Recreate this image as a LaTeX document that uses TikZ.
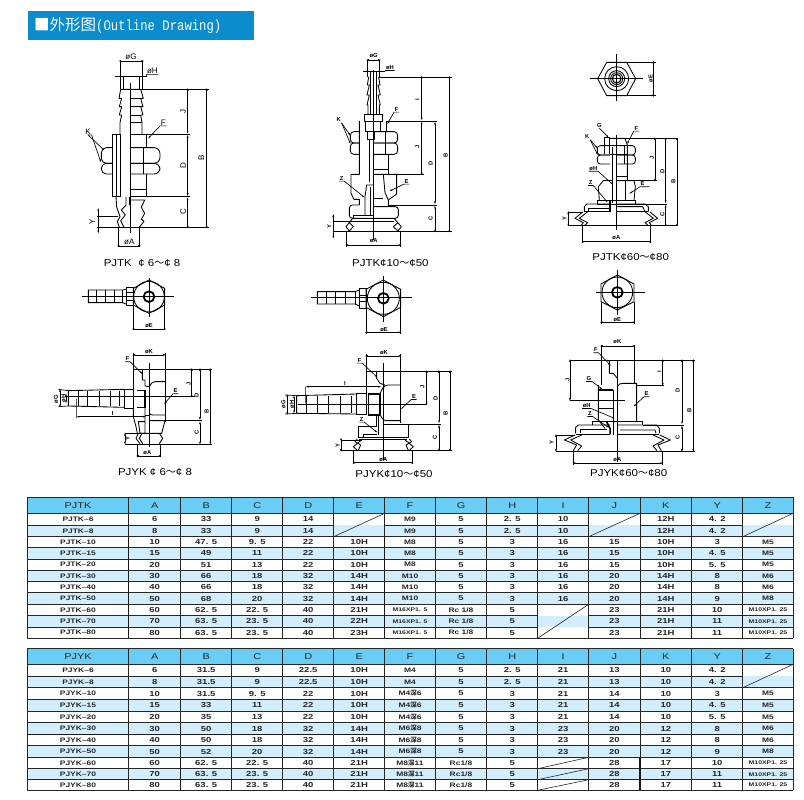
\documentclass[tikz,border=0pt]{standalone}
\usepackage{fontspec}
\usetikzlibrary{arrows.meta}
\setmainfont{Liberation Sans}
\newfontfamily\cjk{Noto Sans CJK SC}
\newfontfamily\titlefont[FakeStretch=.84]{Liberation Mono}
\newfontfamily\tabfont[FakeStretch=1.3]{Liberation Sans}
\newfontfamily\capfont[FakeStretch=1.15]{Liberation Sans}
\definecolor{titleblue}{RGB}{10,140,205}
\definecolor{headblue}{RGB}{105,205,245}
\definecolor{bandblue}{RGB}{210,238,252}
\newcommand{\shen}{{\cjk 深}}
\newcommand{\sm}{\fontsize{5.3}{6}\selectfont}
\newcommand{\fc}{\fontsize{6.5}{7}\selectfont}
\tikzset{
	sheet/.style 2 args={shift={(#1,#2)},x=.33333pt,y=-.33333pt},
	part/.style={line width=.85pt,line join=round},
	thin part/.style={line width=.5pt},
	heavy/.style={line width=1.5pt},
	extline/.style={line width=.65pt},
	dimline/.style={line width=.65pt,{Latex[length=3.5pt,width=1.8pt]}-{Latex[length=3.5pt,width=1.8pt]}},
	leader/.style={line width=.65pt,-{Latex[length=4pt,width=1.6pt]}},
	dimlbl/.style={font=\bfseries\fontsize{5.8}{6}\selectfont,inner sep=.6pt},
	dimrot/.style={dimlbl,rotate=90},
	biglbl/.style={font=\fontsize{8}{8}\selectfont,inner sep=.6pt},
	bigrot/.style={biglbl,rotate=90},
	caption/.style={font=\capfont\fontsize{10}{10}\selectfont,inner sep=0pt},
	tabcell/.style={font=\tabfont\bfseries\fontsize{7.3}{8}\selectfont,inner sep=0pt,text=black!85},
	headcell/.style={font=\tabfont\fontsize{8.4}{9}\selectfont,inner sep=0pt,text=black!85},
	grid/.style={line width=.6pt,black!85},
	gridheavy/.style={line width=1.3pt,black!90},
}
\begin{document}
\begin{tikzpicture}[x=1pt,y=-1pt]
	\useasboundingbox (0,0) rectangle (804,800);
	% title bar
	\fill[titleblue] (28,11) rectangle (254,40);
	\node[anchor=west,inner sep=0pt,text=white] (title) at (34,25.5) {{\cjk\fontsize{15.5}{16}\selectfont ■外形图}{\titlefont\fontsize{14.6}{15}\selectfont (Outline Drawing)}};
	% PJTK 6-8
	\begin{scope}[sheet={0}{0}]
		\draw[thin part] (392,248) -- (392,698);
		\draw[extline] (345,229) -- (440,229);
		\draw[extline] (360,183) -- (360,268);
		\draw[extline] (428,183) -- (428,268);
		\draw[part] (370,229) -- (370,268) (418,229) -- (418,268);
		\draw[part] (420,268) -- (362,268) -- (357,295) -- (365,295) -- (358,320) -- (365,320) -- (358,345) -- (365,345) -- (360,368) -- (360,403);
		\draw[part] (422,268) -- (430,295) -- (422,295) -- (429,320) -- (422,320) -- (429,345) -- (422,345) -- (426,368) -- (426,403);
		\draw[part] (392,295) -- (422,295) (392,320) -- (422,320) (392,345) -- (422,345) (392,368) -- (426,368);
		\draw[part] (338,590) -- (338,403) -- (360,403) (392,403) -- (440,403) -- (440,443) (440,522) -- (440,590) -- (392,590) (338,590) -- (360,590);
		\draw[part] (348,403) -- (348,590) (360,403) -- (360,590) (392,568) -- (440,568);
		\draw[part,rounded corners=5pt] (338,443) -- (304,443) -- (304,490) -- (338,490);
		\draw[part,rounded corners=5pt] (338,490) -- (304,490) -- (304,522) -- (338,522);
		\draw[part,rounded corners=6pt] (392,443) -- (480,443) -- (480,490) -- (392,490);
		\draw[part,rounded corners=6pt] (392,490) -- (480,490) -- (480,522) -- (392,522);
		\draw[part] (430,443) -- (430,522);
		\draw[part] (392,600) -- (434,600) -- (424,622) -- (434,640) -- (424,658) -- (432,664) -- (418,682);
		\draw[part] (348,590) -- (350,620) -- (360,650) -- (352,664) -- (358,682);
		\draw[part] (378,590) -- (378,616) -- (364,630) -- (376,645) -- (362,662) -- (372,682);
		\draw[part] (388,590) -- (388,616);
		\draw[extline] (420,268) -- (626,268) (440,403) -- (570,403) (440,590) -- (570,590) (290,682) -- (626,682) (290,648) -- (355,648);
		\draw[extline] (355,682) -- (355,742) (418,682) -- (418,742);
		\draw[dimline] (353,183) -- (435,183);
		\draw[dimline] (563,262) -- (563,403);
		\draw[dimline] (563,403) -- (563,590);
		\draw[dimline] (563,590) -- (563,688);
		\draw[dimline] (620,262) -- (620,688);
		\draw[dimline] (295,622) -- (295,702);
		\draw[dimline] (348,738) -- (425,738);
		\node[biglbl] (tk1G) at (393,170) {øG};
		\node[biglbl] (tk1H) at (457,213) {øH};
		\node[biglbl] (tk1K) at (264,394) {K};
		\node[biglbl] (tk1F) at (490,367) {F};
		\node[bigrot] (tk1J) at (549,335) {J};
		\node[bigrot] (tk1D) at (549,497) {D};
		\node[bigrot] (tk1C) at (549,636) {C};
		\node[bigrot] (tk1B) at (604,473) {B};
		\node[bigrot] (tk1Y) at (276,666) {Y};
		\node[biglbl] (tk1A) at (388,724) {øA};
		\draw[extline] (tk1H.south east) -- (tk1H.south west) -- (440,229);
		\draw[leader] (tk1K.south east) -- (tk1K.south) -- (316,454);
		\draw[leader] (tk1K.south east) -- (304,490);
		\draw[leader] (tk1F.south east) -- (tk1F.south west) -- (442,418);
		\node[caption] (tk1cap) at (426,790) {PJTK\ \ ¢ 6{\cjk ～}¢ 8};
	\end{scope}
	% PJTK 10-50
	\begin{scope}[sheet={270}{30}]
		\draw[thin part] (310,120) -- (310,630);
		\draw[extline] (293,90) -- (293,140) (328,90) -- (328,140) (280,125) -- (345,125);
		\draw[part] (302,125) -- (302,252) (318,125) -- (318,252);
		\draw[part] (296,141) -- (292,165) -- (298,165) -- (291,195) -- (298,195) -- (291,225) -- (294,225) -- (294,252);
		\draw[part] (326,141) -- (330,165) -- (324,165) -- (331,195) -- (324,195) -- (331,225) -- (328,225) -- (328,252);
		\draw[part] (284,252) -- (336,252) -- (336,273) -- (284,273) -- cycle;
		\draw[part] (287,273) -- (287,303) -- (332,303) -- (332,273);
		\draw[part] (292,303) -- (292,328) -- (312,328) -- (312,303);
		\draw[part] (268,273) -- (268,433) -- (243,433) -- (243,490) -- (252,508) -- (268,508) -- (268,525);
		\draw[part] (297,328) -- (297,455) (311,328) -- (311,455);
		\draw[part] (350,273) -- (350,305) (355,373) -- (355,433) (311,418) -- (355,418);
		\draw[part,rounded corners=3.5pt] (268,305) -- (241,305) -- (241,339) -- (268,339);
		\draw[part,rounded corners=3.5pt] (268,339) -- (241,339) -- (241,373) -- (268,373);
		\draw[part,rounded corners=3.5pt] (311,305) -- (383,305) -- (383,339) -- (311,339);
		\draw[part,rounded corners=3.5pt] (311,339) -- (383,339) -- (383,373) -- (311,373);
		\draw[part] (345,305) -- (345,373);
		\draw[part] (311,433) -- (380,433) -- (380,492) -- (355,510) -- (355,525);
		\draw[part] (340,433) -- (345,488) -- (355,510);
		\draw[part] (311,505) -- (340,505);
		\draw[part,rounded corners=3pt] (268,525) -- (238,525) -- (238,565) -- (385,565) -- (385,530) -- (311,530);
		\draw[part] (250,565) -- (250,556) -- (311,556);
		\draw[part] (285,556) -- (285,500) -- (290,465) -- (311,465);
		\draw[heavy] (302,470) -- (302,556);
		\draw[part] (248,573) -- (372,573);
		\draw[part] (248,565) -- (228,590) -- (238,603) -- (250,590) -- (238,578);
		\draw[part] (372,565) -- (394,590) -- (384,603) -- (370,590) -- (384,578);
		\draw[extline] (190,605) -- (546,605) (190,573) -- (248,573) (328,141) -- (546,141) (350,273) -- (500,273) (355,433) -- (462,433) (355,525) -- (500,525);
		\draw[extline] (228,605) -- (228,650) (392,605) -- (392,650);
		\draw[dimline] (286,90) -- (335,90);
		\draw[dimline] (455,135) -- (455,273);
		\draw[dimline] (455,273) -- (455,438);
		\draw[dimline] (495,273) -- (495,525);
		\draw[dimline] (495,525) -- (495,610);
		\draw[dimline] (538,135) -- (538,610);
		\draw[dimline] (190,550) -- (190,628);
		\draw[dimline] (224,645) -- (397,645);
		\node[dimlbl] (tk2G) at (311,78) {øG};
		\node[dimlbl] (tk2H) at (360,113) {øH};
		\node[dimlbl] (tk2K) at (206,270) {K};
		\node[dimlbl] (tk2F) at (380,238) {F};
		\node[dimlbl] (tk2Z) at (215,445) {Z};
		\node[dimlbl] (tk2E) at (410,454) {E};
		\node[dimrot] (tk2I) at (442,208) {I};
		\node[dimrot] (tk2J) at (442,352) {J};
		\node[dimrot] (tk2D) at (482,400) {D};
		\node[dimrot] (tk2C) at (482,565) {C};
		\node[dimrot] (tk2B) at (527,375) {B};
		\node[dimrot] (tk2Y) at (178,590) {Y};
		\node[dimlbl] (tk2A) at (311,632) {øA};
		\draw[extline] (tk2H.south east) -- (tk2H.south west) -- (345,125);
		\draw[leader] (tk2K.south east) -- (243,320);
		\draw[leader] (tk2K.south east) -- (243,345);
		\draw[leader] (tk2F.south east) -- (tk2F.south west) -- (350,285);
		\draw[leader] (tk2Z.south west) -- (tk2Z.south east) -- (287,505);
		\draw[leader] (tk2E.south east) -- (tk2E.south west) -- (355,485);
		\node[caption] (tk2cap) at (361,700) {PJTK¢10{\cjk ～}¢50};
	\end{scope}
	% PJTK 60-80
	\begin{scope}[sheet={530}{30}]
		\draw[thin part] (180,146) -- (340,146) (260,72) -- (260,212);
		\draw[part] (203,146) -- (230,97) -- (290,97) -- (317,146) -- (290,197) -- (230,197) -- cycle;
		\draw[part] (260,146) circle[radius=36] (260,146) circle[radius=24] (260,146) circle[radius=18];
		\draw[line width=1.1pt] (260,146) circle[radius=13];
		\draw[extline] (290,97) -- (377,97) (290,197) -- (377,197);
		\draw[dimline] (370,90) -- (370,204);
		\node[dimrot] (tk3E1) at (362,146) {øE};
		\draw[thin part] (260,316) -- (260,600);
		\draw[part] (222,372) -- (222,322) -- (238,322) -- (238,372);
		\draw[part] (237,325) -- (285,325) -- (292,345) -- (292,452);
		\draw[part] (240,345) -- (292,345) (240,372) -- (292,372);
		\draw[part,rounded corners=3pt] (240,347) -- (202,347) -- (202,375) -- (240,375);
		\draw[part,rounded corners=3pt] (240,375) -- (202,375) -- (202,402) -- (240,402);
		\draw[part,rounded corners=3pt] (262,347) -- (316,347) -- (316,375) -- (262,375);
		\draw[part,rounded corners=3pt] (262,375) -- (316,375) -- (316,402) -- (262,402);
		\draw[part] (283,347) -- (283,402);
		\draw[part] (247,350) -- (247,520) (258,350) -- (258,520) (262,440) -- (292,440);
		\draw[part] (262,452) -- (312,452) -- (316,470) -- (312,510);
		\draw[part] (220,452) -- (245,452);
		\draw[part] (220,452) -- (205,470) -- (208,510);
		\draw[part] (285,452) -- (285,510);
		\draw[part] (202,510) -- (317,510) -- (317,522) -- (202,522) -- cycle;
		\draw[part] (163,545) -- (163,530) -- (170,522) -- (240,522);
		\draw[part] (176,545) -- (176,536) -- (240,536);
		\draw[part] (262,522) -- (345,522) -- (355,530) -- (355,545);
		\draw[part] (262,530) -- (338,530) -- (345,545);
		\draw[line width=1pt] (163,546) -- (240,546) (262,546) -- (355,546);
		\draw[heavy] (240,512) -- (240,546);
		\draw[part] (158,546) -- (135,565) -- (160,578) -- (153,587);
		\draw[part] (172,546) -- (148,565) -- (173,578) -- (163,587);
		\draw[part] (360,546) -- (383,565) -- (358,578) -- (365,587);
		\draw[part] (346,546) -- (370,565) -- (345,578) -- (355,587);
		\draw[extline] (115,587) -- (445,587) (115,547) -- (160,547) (285,325) -- (445,325) (262,452) -- (380,452) (317,522) -- (412,522);
		\draw[extline] (157,587) -- (157,640) (362,587) -- (362,640);
		\draw[dimline] (375,320) -- (375,457);
		\draw[dimline] (407,320) -- (407,522);
		\draw[dimline] (407,522) -- (407,592);
		\draw[dimline] (441,320) -- (441,592);
		\draw[dimline] (115,541) -- (115,592);
		\draw[dimline] (152,635) -- (367,635);
		\node[dimlbl] (tk3G) at (208,286) {G};
		\node[dimlbl] (tk3F) at (319,295) {F};
		\node[dimlbl] (tk3K) at (172,321) {K};
		\node[dimlbl] (tk3H) at (190,415) {øH};
		\node[dimlbl] (tk3Z) at (182,458) {Z};
		\node[dimlbl] (tk3E) at (338,462) {E};
		\node[dimrot] (tk3J) at (366,385) {J};
		\node[dimrot] (tk3D) at (397,423) {D};
		\node[dimrot] (tk3C) at (397,553) {C};
		\node[dimrot] (tk3B) at (430,455) {B};
		\node[dimrot] (tk3Y) at (104,567) {Y};
		\node[dimlbl] (tk3A) at (259,624) {øA};
		\draw[leader] (tk3G.south) -- (238,325);
		\draw[leader] (tk3F.south east) -- (tk3F.south west) -- (290,345);
		\draw[leader] (tk3K.south east) -- (205,358);
		\draw[leader] (tk3K.south east) -- (205,378);
		\draw[leader] (tk3H.south west) -- (tk3H.south east) -- (250,465);
		\draw[leader] (tk3Z.south west) -- (tk3Z.south east) -- (235,520);
		\draw[leader] (358,470) -- (tk3E.south west) -- (295,493);
		\node[caption] (tk3cap) at (302,680) {PJTK¢60{\cjk ～}¢80};
	\end{scope}
	% PJYK 6-8
	\begin{scope}[sheet={30}{270}]
		\draw[thin part] (155,80) -- (433,80) (357,25) -- (357,140);
		\draw[part] (357,30) -- (404,55) -- (404,105) -- (357,130) -- (310,105) -- (310,55) -- cycle;
		\draw[part] (357,80) circle[radius=46];
		\draw[line width=1.8pt] (357,80) circle[radius=16];
		\draw[part] (290,57) -- (278,60) -- (175,60) -- (175,98) -- (278,98) -- (290,103);
		\draw[part] (200,60) -- (200,98) (227,60) -- (227,98) (252,60) -- (252,98) (278,60) -- (278,98);
		\draw[part] (290,53) -- (310,53) -- (310,105) -- (290,105) -- cycle;
		\draw[part] (290,67) -- (310,67) (290,92) -- (310,92);
		\draw[extline] (310,105) -- (310,181) (404,105) -- (404,181);
		\draw[dimline] (303,177) -- (412,177);
		\node[dimlbl] (yk1E1) at (357,167) {øE};
		\draw[thin part] (357,278) -- (357,530);
		\draw[thin part] (105,380) -- (495,380);
		\draw[extline] (310,250) -- (310,358) (405,250) -- (405,297);
		\draw[extline] (310,297) -- (545,297);
		\draw[part] (405,297) -- (405,455);
		\draw[part] (337,297) -- (337,330) -- (345,330) -- (345,348) -- (360,350);
		\draw[part] (358,350) to[out=60,in=170] (375,335) -- (405,335);
		\draw[part] (358,350) -- (358,452);
		\draw[part] (358,430) to[out=-60,in=180] (370,435) -- (405,435);
		\draw[part] (115,362) -- (283,358) (115,408) -- (283,412) (115,362) -- (115,408);
		\draw[part] (145,362) -- (145,408) (172,362) -- (172,408) (207,362) -- (207,408) (240,362) -- (240,408) (267,362) -- (267,408);
		\draw[part] (283,358) -- (310,358) -- (310,415) -- (283,415) -- cycle;
		\draw[line width=1.1pt] (320,362) -- (345,362) -- (345,412) -- (320,412);
		\draw[part] (310,415) -- (310,440) -- (318,470) -- (322,490);
		\draw[part] (345,412) -- (345,490) -- (330,490) -- (325,455) -- (345,455);
		\draw[part] (345,435) -- (358,435);
		\draw[part] (358,452) -- (405,452) -- (395,490) -- (330,490);
		\draw[part] (325,490) -- (318,505) -- (330,521);
		\draw[part] (336,490) -- (328,505) -- (338,521);
		\draw[part] (388,490) -- (398,505) -- (388,521);
		\draw[extline] (285,522) -- (545,522) (400,452) -- (515,452) (285,490) -- (330,490);
		\draw[extline] (322,522) -- (322,562) (392,522) -- (392,562);
		\draw[extline] (85,358) -- (115,362) (85,410) -- (115,408) (140,385) -- (140,444);
		\draw[dimline] (90,354) -- (90,414);
		\draw[dimline] (108,368) -- (108,402);
		\draw[dimline] (138,440) -- (350,440);
		\draw[dimline] (305,255) -- (410,255);
		\draw[dimline] (485,292) -- (485,385);
		\draw[dimline] (510,292) -- (510,452);
		\draw[dimline] (510,452) -- (510,526);
		\draw[dimline] (541,292) -- (541,526);
		\draw[dimline] (285,486) -- (285,526);
		\draw[dimline] (316,558) -- (397,558);
		\node[dimlbl] (yk1K) at (357,244) {øK};
		\node[dimlbl] (yk1F) at (293,267) {F};
		\node[dimlbl] (yk1E) at (437,363) {E};
		\node[dimrot] (yk1G) at (78,388) {øG};
		\node[dimrot] (yk1H) at (100,385) {øH};
		\node[dimlbl] (yk1I) at (248,430) {I};
		\node[dimrot] (yk1J) at (476,343) {J};
		\node[dimrot] (yk1D) at (500,375) {D};
		\node[dimrot] (yk1C) at (500,488) {C};
		\node[dimrot] (yk1B) at (530,424) {B};
		\node[dimrot] (yk1Y) at (293,507) {Y};
		\node[dimlbl] (yk1A) at (352,548) {øA};
		\draw[leader] (yk1F.south west) -- (yk1F.south east) -- (340,315);
		\draw[leader] (yk1E.south east) -- (yk1E.south west) -- (400,405);
		\node[caption] (yk1cap) at (375,605) {PJYK ¢ 6{\cjk ～}¢ 8};
	\end{scope}
	% PJYK 10-50
	\begin{scope}[sheet={270}{270}]
		\draw[thin part] (122,83) -- (425,83) (340,18) -- (340,155);
		\draw[part] (340,30) -- (392,58) -- (392,112) -- (340,140) -- (288,112) -- (288,58) -- cycle;
		\draw[part] (340,85) circle[radius=48];
		\draw[line width=1.8pt] (340,85) circle[radius=16];
		\draw[part] (268,60) -- (255,65) -- (142,65) -- (142,102) -- (255,102) -- (268,108);
		\draw[part] (170,65) -- (170,102) (197,65) -- (197,102) (227,65) -- (227,102) (255,65) -- (255,102);
		\draw[part] (268,55) -- (290,55) -- (290,115) -- (268,115) -- cycle;
		\draw[part] (268,75) -- (290,75) (268,95) -- (290,95);
		\draw[extline] (288,112) -- (288,191) (392,112) -- (392,191);
		\draw[dimline] (282,187) -- (397,187);
		\node[dimlbl] (yk2E1) at (342,178) {øE};
		\draw[thin part] (340,280) -- (340,570);
		\draw[thin part] (85,403) -- (472,403);
		\draw[extline] (288,253) -- (288,370) (390,253) -- (390,303) (288,303) -- (545,303);
		\draw[part] (390,303) -- (390,458);
		\draw[part] (320,303) -- (320,325) -- (330,340) -- (345,345);
		\draw[part] (330,372) to[out=70,in=180] (355,345) -- (390,345);
		\draw[part] (330,372) -- (330,432);
		\draw[part] (330,432) to[out=-70,in=180] (350,452) -- (390,452);
		\draw[part] (80,377) -- (260,372) (80,430) -- (260,432) (80,377) -- (80,430);
		\draw[part] (108,377) -- (108,430) (143,377) -- (143,430) (175,377) -- (175,430) (210,377) -- (210,430) (245,377) -- (245,430);
		\draw[part] (260,370) -- (290,370) -- (290,432) -- (260,432) -- cycle;
		\draw[line width=1.1pt] (295,372) -- (328,372) -- (328,435) -- (295,435) -- cycle;
		\draw[part] (320,435) -- (320,470) -- (265,470) -- (265,502) -- (415,502) -- (415,462) -- (340,462);
		\draw[part] (280,502) -- (280,492) -- (320,492);
		\draw[part] (340,435) -- (340,502);
		\draw[line width=1pt] (325,435) -- (325,495);
		\draw[part] (278,507) -- (250,530) -- (262,541);
		\draw[part] (262,507) -- (255,515) -- (272,525) -- (265,541);
		\draw[part] (402,507) -- (430,530) -- (418,541);
		\draw[part] (418,507) -- (425,515) -- (408,525) -- (415,541);
		\draw[part] (268,507) -- (412,507);
		\draw[extline] (213,542) -- (545,542) (213,510) -- (275,510) (415,462) -- (512,462);
		\draw[extline] (250,542) -- (250,582) (428,542) -- (428,582);
		\draw[extline] (45,375) -- (80,377) (45,432) -- (80,430) (107,350) -- (107,400);
		\draw[dimline] (283,258) -- (397,258);
		\draw[dimline] (105,350) -- (335,350);
		\draw[dimline] (52,370) -- (52,437);
		\draw[dimline] (72,374) -- (72,432);
		\draw[dimline] (470,298) -- (470,408);
		\draw[dimline] (507,298) -- (507,462);
		\draw[dimline] (507,462) -- (507,547);
		\draw[dimline] (540,298) -- (540,547);
		\draw[dimline] (213,500) -- (213,548);
		\draw[dimline] (245,578) -- (433,578);
		\node[dimlbl] (yk2K) at (342,247) {øK};
		\node[dimlbl] (yk2F) at (269,271) {F};
		\node[dimlbl] (yk2E) at (432,380) {E};
		\node[dimlbl] (yk2I) at (225,340) {I};
		\node[dimlbl] (yk2Z) at (275,448) {Z};
		\node[dimrot] (yk2G) at (40,403) {øG};
		\node[dimrot] (yk2H) at (66,403) {øH};
		\node[dimrot] (yk2J) at (457,352) {J};
		\node[dimrot] (yk2D) at (497,385) {D};
		\node[dimrot] (yk2C) at (495,502) {C};
		\node[dimrot] (yk2B) at (527,430) {B};
		\node[dimrot] (yk2Y) at (203,527) {Y};
		\node[dimlbl] (yk2A) at (340,568) {øA};
		\draw[leader] (yk2F.south west) -- (yk2F.south east) -- (325,325);
		\draw[leader] (yk2E.south east) -- (yk2E.south west) -- (390,420);
		\draw[leader] (yk2Z.south west) -- (yk2Z.south east) -- (325,490);
		\node[caption] (yk2cap) at (372,612) {PJYK¢10{\cjk ～}¢50};
	\end{scope}
	% PJYK 60-80
	\begin{scope}[sheet={530}{270}]
		\draw[thin part] (198,67) -- (345,67) (262,0) -- (262,135);
		\draw[part] (262,15) -- (312,42) -- (312,95) -- (262,120) -- (213,95) -- (213,42) -- cycle;
		\draw[part] (262,67) circle[radius=46];
		\draw[line width=1.8pt] (262,67) circle[radius=16];
		\draw[extline] (213,95) -- (213,161) (312,95) -- (312,161);
		\draw[dimline] (207,157) -- (318,157);
		\node[dimlbl] (yk3E1) at (262,150) {øE};
		\draw[thin part] (262,272) -- (262,575);
		\draw[extline] (215,225) -- (215,345) (312,225) -- (312,270) (120,270) -- (495,270) (120,390) -- (285,390);
		\draw[part] (312,270) -- (312,338);
		\draw[part] (238,270) -- (238,310) -- (250,310) -- (262,325);
		\draw[part] (262,350) to[out=80,in=180] (280,340) -- (320,340) -- (320,455);
		\draw[extline] (320,345) -- (403,345);
		\draw[part] (205,345) -- (205,450) -- (225,475);
		\draw[line width=1.3pt] (205,360) -- (250,360) (205,415) -- (250,415);
		\draw[part] (250,360) -- (250,495);
		\draw[part] (188,465) -- (188,455) -- (338,455) -- (338,465);
		\draw[part] (137,490) -- (137,472) -- (145,465) -- (240,465);
		\draw[part] (150,490) -- (150,478) -- (230,478);
		\draw[part] (262,465) -- (380,465) -- (388,475) -- (388,490);
		\draw[part] (270,480) -- (375,480) -- (378,490);
		\draw[heavy] (230,455) -- (240,475) -- (240,493);
		\draw[line width=1pt] (137,493) -- (240,493) (262,493) -- (388,493);
		\draw[part] (135,495) -- (103,510) -- (140,525) -- (130,542);
		\draw[part] (155,495) -- (122,510) -- (155,528) -- (143,542);
		\draw[part] (389,495) -- (421,510) -- (384,525) -- (394,542);
		\draw[part] (369,495) -- (402,510) -- (369,528) -- (381,542);
		\draw[extline] (78,543) -- (495,543) (78,495) -- (135,495) (338,465) -- (462,465);
		\draw[extline] (130,543) -- (130,584) (397,543) -- (397,584);
		\draw[dimline] (208,228) -- (318,228);
		\draw[dimline] (120,265) -- (120,395);
		\draw[dimline] (398,265) -- (398,350);
		\draw[dimline] (456,265) -- (456,465);
		\draw[dimline] (456,465) -- (456,548);
		\draw[dimline] (490,265) -- (490,548);
		\draw[dimline] (78,490) -- (78,548);
		\draw[dimline] (125,579) -- (402,579);
		\node[dimlbl] (yk3K) at (262,215) {øK};
		\node[dimlbl] (yk3F) at (198,240) {F};
		\node[dimlbl] (yk3G) at (177,326) {G};
		\node[dimlbl] (yk3H) at (170,407) {øH};
		\node[dimlbl] (yk3Z) at (180,431) {Z};
		\node[dimlbl] (yk3E) at (350,372) {E};
		\node[dimrot] (yk3I) at (388,305) {I};
		\node[dimrot] (yk3J) at (113,330) {J};
		\node[dimrot] (yk3D) at (443,362) {D};
		\node[dimrot] (yk3C) at (443,503) {C};
		\node[dimrot] (yk3B) at (478,422) {B};
		\node[dimrot] (yk3Y) at (65,518) {Y};
		\node[dimlbl] (yk3A) at (262,570) {øA};
		\draw[leader] (yk3F.south west) -- (yk3F.south east) -- (245,290);
		\draw[leader] (yk3G.south west) -- (yk3G.south east) -- (220,360);
		\draw[leader] (yk3H.south west) -- (yk3H.south east) -- (258,447);
		\draw[leader] (yk3Z.south west) -- (yk3Z.south east) -- (240,475);
		\draw[leader] (yk3E.south east) -- (yk3E.south west) -- (308,412);
		\node[caption] (yk3cap) at (296,610) {PJYK¢60{\cjk ～}¢80};
	\end{scope}
	% table PJTK
	\fill[headblue] (27.3,497.3) rectangle (793.3,513.3);
	\foreach \txt [count=\colno] in {PJTK,A,B,C,D,E,F,G,H,I,J,K,Y,Z}{
		\pgfmathsetmacro\cellx{{78,154.7,206.2,257.2,308.2,359.2,410,461,512.2,563.2,614.3,665.8,717.2,768}[\colno-1]}
		\node[headcell] (pjtk-head-\colno) at (\cellx,505.5) {\txt};
	}
	\foreach \ya/\yb/\vals [count=\rowno] in {
		513.3/525/{\fc PJTK–6,6,33,9,14,,\fc M9,5,2. 5,10,,12H,4. 2,},
		525/536.7/{\fc PJTK–8,8,33,9,14,,\fc M9,5,2. 5,10,,12H,4. 2,},
		536.7/547.7/{\fc PJTK–10,10,47. 5,9. 5,22,10H,\fc M8,5,3,16,15,10H,3,\fc M5},
		547.7/559/{\fc PJTK–15,15,49,11,22,10H,\fc M8,5,3,16,15,10H,4. 5,\fc M5},
		559/570.3/{\fc PJTK–20,20,51,13,22,10H,\fc M8,5,3,16,15,10H,5. 5,\fc M5},
		570.3/581.7/{\fc PJTK–30,30,66,18,32,14H,\fc M10,5,3,16,20,14H,8,\fc M6},
		581.7/592.7/{\fc PJTK–40,40,66,18,32,14H,\fc M10,5,3,16,20,14H,8,\fc M6},
		592.7/604.3/{\fc PJTK–50,50,68,20,32,14H,\fc M10,5,3,16,20,14H,9,\fc M8},
		604.3/615.7/{\fc PJTK–60,60,62. 5,22. 5,40,21H,\sm M16XP1. 5,\fc Rc 1/8,5,,23,21H,10,\sm M10XP1. 25},
		615.7/627/{\fc PJTK–70,70,63. 5,23. 5,40,22H,\sm M16XP1. 5,\fc Rc 1/8,5,,23,21H,11,\sm M10XP1. 25},
		627/638.3/{\fc PJTK–80,80,63. 5,23. 5,40,23H,\sm M16XP1. 5,\fc Rc 1/8,5,,23,21H,11,\sm M10XP1. 25}}{
		\ifodd\rowno\else\fill[bandblue] (27.3,\ya) rectangle (793.3,\yb);\fi
		\pgfmathsetmacro\rowy{(\ya+\yb)/2}
		\foreach \val [count=\colno] in \vals {
			\pgfmathsetmacro\cellx{{78,154.7,206.2,257.2,308.2,359.2,410,461,512.2,563.2,614.3,665.8,717.2,768}[\colno-1]}
			\ifx\val\empty\else\node[tabcell] (pjtk-\rowno-\colno) at (\cellx,\rowy) {\val};\fi
		}
	}
	\foreach \gx in {27.3,128.7,180.7,231.7,282.7,333.7,384.7,435.3,486.7,537.7,588.7,640,691.7,742.7,793.3}{
		\draw[grid] (\gx,497.3) -- (\gx,638.3);
	}
	\foreach \gy in {497.3,513.3,536.7,547.7,559,570.3,581.7,592.7,604.3,638.3}{
		\draw[grid] (27.3,\gy) -- (793.3,\gy);
	}
	\draw[grid] (27.3,525) -- (333.7,525) (384.7,525) -- (588.7,525) (640,525) -- (742.7,525);
	\draw[grid] (27.3,615.7) -- (537.7,615.7) (588.7,615.7) -- (793.3,615.7);
	\draw[grid] (27.3,627) -- (537.7,627) (588.7,627) -- (793.3,627);
	\draw[grid] (333.7,536.7) -- (384.7,513.3) (588.7,536.7) -- (640,513.3) (742.7,536.7) -- (793.3,513.3) (537.7,638.3) -- (588.7,604.3);
	\draw[gridheavy] (128.7,536.7) -- (128.7,638.3) (384.7,536.7) -- (384.7,638.3) (691.7,536.7) -- (691.7,638.3) (742.7,536.7) -- (742.7,638.3);
	% table PJYK
	\fill[headblue] (27.3,648.7) rectangle (793.3,664.3);
	\foreach \txt [count=\colno] in {PJYK,A,B,C,D,E,F,G,H,I,J,K,Y,Z}{
		\pgfmathsetmacro\cellx{{78,154.7,206.2,257.2,308.2,359.2,410,461,512.2,563.2,614.3,665.8,717.2,768}[\colno-1]}
		\node[headcell] (pjyk-head-\colno) at (\cellx,656.7) {\txt};
	}
	\foreach \ya/\yb/\vals [count=\rowno] in {
		664.3/676/{\fc PJYK–6,6,31.5,9,22.5,10H,\fc M4,5,2. 5,21,13,10,4. 2,},
		676/687.7/{\fc PJYK–8,8,31.5,9,22.5,10H,\fc M4,5,2. 5,21,13,10,4. 2,},
		687.7/699.3/{\fc PJYK–10,10,31.5,9. 5,22,10H,\fc M4\shen6,5,3,21,14,10,3,\fc M5},
		699.3/711.3/{\fc PJYK–15,15,33,11,22,10H,\fc M4\shen6,5,3,21,14,10,4. 5,\fc M5},
		711.3/722.7/{\fc PJYK–20,20,35,13,22,10H,\fc M4\shen6,5,3,21,14,10,5. 5,\fc M5},
		722.7/734.3/{\fc PJYK–30,30,50,18,32,14H,\fc M6\shen8,5,3,23,20,12,8,\fc M6},
		734.3/745.7/{\fc PJYK–40,40,50,18,32,14H,\fc M6\shen8,5,3,23,20,12,8,\fc M6},
		745.7/757.3/{\fc PJYK–50,50,52,20,32,14H,\fc M6\shen8,5,3,23,20,12,9,\fc M8},
		757.3/768.7/{\fc PJYK–60,60,62. 5,22. 5,40,21H,\fc M8\shen11,\fc Rc1/8,5,,28,17,10,\sm M10XP1. 25},
		768.7/779.7/{\fc PJYK–70,70,63. 5,23. 5,40,21H,\fc M8\shen11,\fc Rc1/8,5,,28,17,11,\sm M10XP1. 25},
		779.7/790.3/{\fc PJYK–80,80,63. 5,23. 5,40,21H,\fc M8\shen11,\fc Rc1/8,5,,28,17,11,\sm M10XP1. 25}}{
		\ifodd\rowno\else\fill[bandblue] (27.3,\ya) rectangle (793.3,\yb);\fi
		\pgfmathsetmacro\rowy{(\ya+\yb)/2}
		\foreach \val [count=\colno] in \vals {
			\pgfmathsetmacro\cellx{{78,154.7,206.2,257.2,308.2,359.2,410,461,512.2,563.2,614.3,665.8,717.2,768}[\colno-1]}
			\ifx\val\empty\else\node[tabcell] (pjyk-\rowno-\colno) at (\cellx,\rowy) {\val};\fi
		}
	}
	\foreach \gx in {27.3,128.7,180.7,231.7,282.7,333.7,384.7,435.3,486.7,537.7,588.7,640,691.7,742.7,793.3}{
		\draw[grid] (\gx,648.7) -- (\gx,790.3);
	}
	\foreach \gy in {648.7,664.3,687.7,699.3,711.3,722.7,745.7,757.3,768.7,779.7,790.3}{
		\draw[grid] (27.3,\gy) -- (793.3,\gy);
	}
	\draw[grid] (27.3,676) -- (742.7,676);
	\draw[gridheavy] (27.3,734.3) -- (793.3,734.3);
	\draw[grid] (742.7,687.7) -- (793.3,664.3);
	\draw[grid] (537.7,768.7) -- (588.7,757.3) (537.7,779.7) -- (588.7,768.7) (537.7,790.3) -- (588.7,779.7);
	\draw[gridheavy] (180.7,757.3) -- (180.7,790.3) (640,757.3) -- (640,790.3);
\end{tikzpicture}
\end{document}
